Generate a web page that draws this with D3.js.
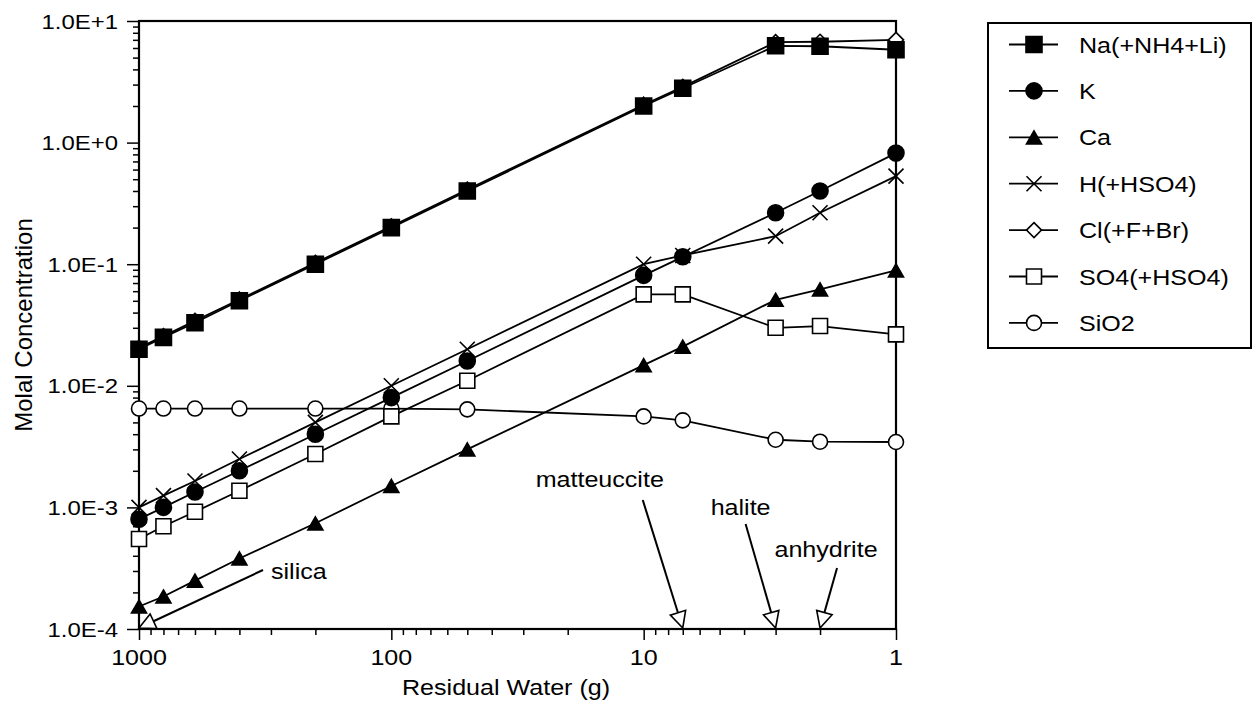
<!DOCTYPE html>
<html>
<head>
<meta charset="utf-8">
<script src="https://cdn.jsdelivr.net/npm/d3@7"></script>
<style>
  body { margin: 0; background: #fff; }
  text { font-family: 'Liberation Sans', Arial, Helvetica, sans-serif; fill: #000; }
</style>
</head>
<body>
<svg id="chart" width="1257" height="703"></svg>
<script>
// residual water (g) at each step of the evaporation
var water = [1000, 800, 600, 400, 200, 100, 50, 10, 7, 3, 2, 1]

// molal concentrations
var na = [0.020, 0.025, 0.033, 0.050, 0.100, 0.200, 0.400, 2.00, 2.80, 6.25, 6.20, 5.80]
var k = [0.00080, 0.00100, 0.00134, 0.0020, 0.0040, 0.0080, 0.0160, 0.081, 0.115, 0.265, 0.40, 0.82]
var ca = [0.000153, 0.000185, 0.000250, 0.000380, 0.00074, 0.00150, 0.0030, 0.0148, 0.021, 0.051, 0.062, 0.089]
var h = [0.00100, 0.00125, 0.00165, 0.0025, 0.0050, 0.0100, 0.0200, 0.100, 0.118, 0.170, 0.265, 0.53]
var cl = [0.0205, 0.0256, 0.0342, 0.0513, 0.1026, 0.205, 0.41, 2.05, 2.87, 6.7, 6.75, 7.0]
var so4 = [0.00055, 0.00070, 0.00092, 0.00137, 0.00275, 0.0056, 0.0110, 0.0565, 0.0565, 0.030, 0.031, 0.0265]
var sio2 = [0.0065, 0.0065, 0.0065, 0.0065, 0.0065, 0.0065, 0.0064, 0.0056, 0.0052, 0.0036, 0.00347, 0.00345]

var seriesNames = ['Na(+NH4+Li)', 'K', 'Ca', 'H(+HSO4)', 'Cl(+F+Br)', 'SO4(+HSO4)', 'SiO2']
var seriesValues = [na, k, ca, h, cl, so4, sio2]

// tick labels
var xTicks = [1000, 100, 10, 1]
var yTicks = [1e-4, 1e-3, 1e-2, 1e-1, 1e0, 1e1]

// minerals that start to precipitate, and the water left when they do
var minerals = ['silica', 'matteuccite', 'halite', 'anhydrite']
var mineralWater = [1000, 7, 3, 2]

// ---- layout / style ----
var sx = 1.14 // text in the original is a bit wider than Arial
var plot = { left: 139, right: 896, top: 21, bottom: 629 }
var markers = [
  { shape: 'square', fill: '#000', r: 8 },
  { shape: 'circle', fill: '#000', r: 8 },
  { shape: 'triangle', fill: '#000', r: 7.5 },
  { shape: 'cross', fill: 'none', r: 7.5 },
  { shape: 'diamond', fill: '#fff', r: 7.5 },
  { shape: 'square', fill: '#fff', r: 7.5 },
  { shape: 'circle', fill: '#fff', r: 7.5 }
]
// arrow tails relative to tip, labels relative to tail
var arrowLayout = [
  { dx: 124, dy: -58, lx: 8, ly: 9, anchor: 'start' },
  { dx: -40, dy: -128, lx: -43, ly: -13, anchor: 'middle' },
  { dx: -30, dy: -104, lx: -5, ly: -9, anchor: 'middle' },
  { dx: 17, dy: -60, lx: -11, ly: -11, anchor: 'middle' }
]

var svg = d3.select('#chart')

var x = d3.scaleLog().domain([1000, 1]).range([plot.left, plot.right])
var y = d3.scaleLog().domain([1e-4, 10]).range([plot.bottom, plot.top])

function minorTicks(lo, hi) {
  var out = []
  for (var e = lo; e < hi; e++) {
    for (var m = 2; m <= 9; m++) out.push(m * Math.pow(10, e))
  }
  return out
}

function sciFormat(v) {
  var e = Math.round(Math.log10(v))
  return '1.0E' + (e >= 0 ? '+' : '-') + Math.abs(e)
}

function addText(g, px, py, str, anchor, size) {
  return g
    .append('text')
    .attr('transform', `translate(${px},${py}) scale(${sx},1)`)
    .attr('text-anchor', anchor)
    .style('font-size', size + 'px')
    .text(str)
}

function shapePath(shape, r) {
  if (shape === 'square') return `M${-r},${-r}H${r}V${r}H${-r}Z`
  if (shape === 'circle') return d3.symbol(d3.symbolCircle, Math.PI * r * r)()
  if (shape === 'triangle') {
    var t = r * 0.87
    return `M0,${-t}L${r},${t}L${-r},${t}Z`
  }
  if (shape === 'cross') return `M${-r},${-r}L${r},${r}M${r},${-r}L${-r},${r}`
  if (shape === 'diamond') return `M0,${-r}L${r},0L0,${r}L${-r},0Z`
}

// ---- axes ----
var yAxisG = svg.append('g').attr('transform', `translate(${plot.left},0)`)
yAxisG.append('g').call(d3.axisLeft(y).tickValues(yTicks).tickSize(12).tickFormat(''))
yAxisG.append('g').call(d3.axisLeft(y).tickValues(minorTicks(-4, 1)).tickSize(6).tickFormat(''))
yAxisG.selectAll('.domain').remove()
yAxisG.selectAll('line').attr('stroke-width', 1.5)

var xAxisG = svg.append('g').attr('transform', `translate(0,${plot.bottom})`)
xAxisG.append('g').call(d3.axisBottom(x).tickValues(xTicks).tickSize(11).tickFormat(''))
xAxisG.append('g').call(d3.axisBottom(x).tickValues(minorTicks(0, 3)).tickSize(6).tickFormat(''))
xAxisG.selectAll('.domain').remove()
xAxisG.selectAll('line').attr('stroke-width', 1.5)

yTicks.forEach(function(v) {
  addText(svg, 118, y(v) + 7.5, sciFormat(v), 'end', 21)
})
xTicks.forEach(function(v) {
  addText(svg, x(v), 665, String(v), 'middle', 22)
})

addText(svg, 506, 695, 'Residual Water (g)', 'middle', 22)
svg
  .append('text')
  .attr('transform', `translate(32,${(plot.top + plot.bottom) / 2}) rotate(-90)`)
  .attr('text-anchor', 'middle')
  .style('font-size', '24px')
  .text('Molal Concentration')

// ---- frame ----
svg
  .append('rect')
  .attr('x', plot.left)
  .attr('y', plot.top)
  .attr('width', plot.right - plot.left)
  .attr('height', plot.bottom - plot.top)
  .attr('fill', 'none')
  .attr('stroke', '#000')
  .attr('stroke-width', 2.2)

// ---- series ----
var line = d3
  .line()
  .x(d => x(d.w))
  .y(d => y(d.c))

var drawOrder = [6, 5, 4, 3, 2, 1, 0]
drawOrder.forEach(function(i) {
  var pts = water.map((w, j) => ({ w: w, c: seriesValues[i][j] }))
  var g = svg.append('g').attr('class', 'series')
  g.append('path')
    .attr('d', line(pts))
    .attr('fill', 'none')
    .attr('stroke', '#000')
    .attr('stroke-width', 1.8)
  g.selectAll('.mark')
    .data(pts)
    .enter()
    .append('path')
    .attr('class', 'mark')
    .attr('transform', d => `translate(${x(d.w)},${y(d.c)})`)
    .attr('d', shapePath(markers[i].shape, markers[i].r))
    .attr('fill', markers[i].fill)
    .attr('stroke', '#000')
    .attr('stroke-width', 1.6)
})

// ---- precipitation arrows ----
minerals.forEach(function(name, i) {
  var lay = arrowLayout[i]
  var tip = [x(mineralWater[i]), y(1e-4) - 1]
  var tail = [tip[0] + lay.dx, tip[1] + lay.dy]
  var len = Math.hypot(lay.dx, lay.dy)
  var ux = -lay.dx / len
  var uy = -lay.dy / len
  var base = [tip[0] - 16 * ux, tip[1] - 16 * uy]
  var a = [base[0] - 8 * uy, base[1] + 8 * ux]
  var b = [base[0] + 8 * uy, base[1] - 8 * ux]
  var g = svg.append('g')
  g.append('line')
    .attr('x1', tail[0])
    .attr('y1', tail[1])
    .attr('x2', base[0])
    .attr('y2', base[1])
    .attr('stroke', '#000')
    .attr('stroke-width', 2)
  g.append('path')
    .attr('d', `M${tip[0]},${tip[1]}L${a[0]},${a[1]}L${b[0]},${b[1]}Z`)
    .attr('fill', '#fff')
    .attr('stroke', '#000')
    .attr('stroke-width', 1.6)
  addText(svg, tail[0] + lay.lx, tail[1] + lay.ly, name, lay.anchor, 22)
})

// ---- legend ----
var legend = svg.append('g').attr('transform', 'translate(988,23)')
legend
  .append('rect')
  .attr('width', 263)
  .attr('height', 325)
  .attr('fill', '#fff')
  .attr('stroke', '#000')
  .attr('stroke-width', 2)

seriesNames.forEach(function(name, i) {
  var row = legend.append('g').attr('transform', `translate(0,${21.5 + i * 46.4})`)
  row.append('line')
    .attr('x1', 21)
    .attr('x2', 70)
    .attr('stroke', '#000')
    .attr('stroke-width', 1.8)
  row.append('path')
    .attr('transform', 'translate(46,0)')
    .attr('d', shapePath(markers[i].shape, markers[i].r))
    .attr('fill', markers[i].fill)
    .attr('stroke', '#000')
    .attr('stroke-width', 1.6)
  addText(row, 91, 8, name, 'start', 22)
})
</script>
</body>
</html>
